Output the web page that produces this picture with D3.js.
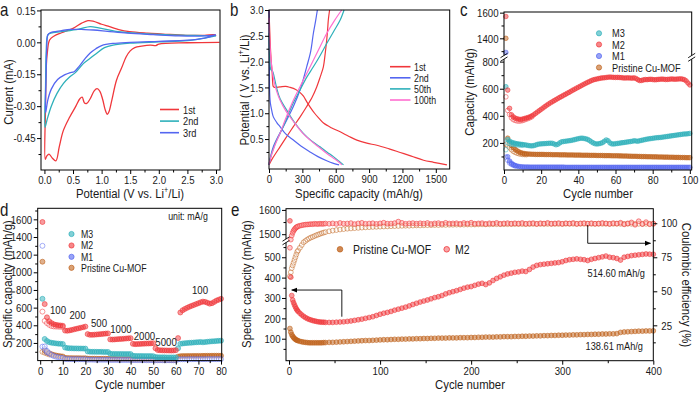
<!DOCTYPE html>
<html>
<head>
<meta charset="utf-8">
<script src="https://cdn.jsdelivr.net/npm/d3@7"></script>
<style>
body { margin: 0; background: #fff; }
svg text { font-family: "Liberation Sans", Arial, sans-serif; fill: #1a1a1a; }
</style>
</head>
<body>
<svg id="fig" width="700" height="393"></svg>
<script>
// ---------------- panel a : CV curves, [potential (V), current (mA)]
var cvFirst = [[3.06,0.0],[2.5,-0.002],[2.0,-0.008],[1.95,-0.015],[1.85,-0.013],[1.7,-0.018],[1.58,-0.025],[1.5,-0.04],
  [1.43,-0.068],[1.35,-0.12],[1.26,-0.178],[1.18,-0.27],[1.13,-0.325],[1.1,-0.338],[1.06,-0.315],[1.02,-0.27],[0.97,-0.23],
  [0.92,-0.218],[0.87,-0.228],[0.8,-0.265],[0.74,-0.287],[0.7,-0.285],[0.66,-0.258],[0.62,-0.265],[0.55,-0.3],[0.44,-0.352],
  [0.33,-0.415],[0.26,-0.49],[0.2,-0.557],[0.14,-0.545],[0.08,-0.525],[0.04,-0.535],[0.015,-0.55],[0.02,-0.3],[0.035,-0.1],
  [0.05,-0.05],[0.09,0.011],[0.17,0.03],[0.3,0.045],[0.5,0.066],[0.65,0.09],[0.76,0.102],[0.85,0.1],[1.0,0.085],[1.14,0.074],
  [1.3,0.06],[1.49,0.05],[1.8,0.043],[2.07,0.039],[2.47,0.033],[2.8,0.033],[2.97,0.036],[3.0,0.03]];
var cvSecond = [[3.0,0.03],[2.8,0.02],[2.5,0.008],[2.0,0.002],[1.5,-0.004],[1.2,-0.013],[1.05,-0.025],[0.91,-0.052],
  [0.8,-0.075],[0.68,-0.1],[0.55,-0.14],[0.44,-0.163],[0.33,-0.194],[0.22,-0.24],[0.12,-0.3],[0.05,-0.36],[0.01,-0.4],
  [0.02,-0.2],[0.03,-0.05],[0.06,0.035],[0.11,0.043],[0.3,0.05],[0.6,0.062],[0.8,0.074],[0.95,0.068],[1.25,0.052],
  [1.8,0.04],[2.4,0.034],[2.8,0.032],[3.0,0.03]];
var cvThird = [[3.0,0.035],[2.8,0.02],[2.5,0.01],[2.0,0.005],[1.5,0.0],[1.2,-0.005],[1.0,-0.015],[0.9,-0.03],[0.8,-0.05],
  [0.7,-0.08],[0.6,-0.115],[0.52,-0.138],[0.44,-0.143],[0.36,-0.152],[0.23,-0.175],[0.12,-0.22],[0.06,-0.27],[0.02,-0.33],
  [0.03,-0.15],[0.04,-0.03],[0.06,0.035],[0.1,0.045],[0.3,0.055],[0.45,0.061],[0.7,0.06],[0.86,0.058],[1.1,0.052],
  [1.45,0.043],[1.9,0.036],[2.35,0.03],[2.8,0.03],[3.0,0.035]];
var cvNames = ["1st", "2nd", "3rd"];
var aTicksX = [0, 0.5, 1, 1.5, 2, 2.5, 3], aMinorX = [0.25, 0.75, 1.25, 1.75, 2.25, 2.75];
var aTicksY = [-0.45, -0.3, -0.15, 0, 0.15], aMinorY = [-0.525, -0.375, -0.225, -0.075, 0.075];

// ---------------- panel b : charge/discharge, [capacity (mAh/g), potential (V)]
var dis1st = [[0,3.0],[5,2.7],[12,2.3],[20,2.0],[28,1.8],[33,1.6],[38,1.52],[50,1.5],[100,1.51],[150,1.52],[190,1.5],[240,1.46],
  [280,1.4],[310,1.33],[340,1.22],[370,1.12],[410,1.0],[450,0.9],[490,0.81],[560,0.72],[640,0.64],[720,0.55],[790,0.48],
  [880,0.42],[970,0.38],[1080,0.31],[1180,0.24],[1280,0.17],[1390,0.09],[1480,0.05],[1600,0.0]];
var chg1st = [[0,0.0],[30,0.12],[99,0.35],[160,0.55],[219,0.74],[280,0.93],[339,1.13],[390,1.32],[429,1.51],[460,1.7],
  [489,1.9],[505,2.15],[519,2.42],[528,2.65],[534,2.82],[545,3.0]];
var dis2nd = [[0,3.0],[2,2.3],[4,1.7],[6,1.4],[12,1.2],[25,1.05],[39,0.93],[70,0.82],[99,0.74],[150,0.6],[219,0.48],
  [290,0.36],[369,0.25],[440,0.16],[519,0.08],[580,0.03],[630,0.0]];
var chg2nd = [[0,0.0],[39,0.35],[129,0.74],[219,1.13],[279,1.45],[339,1.9],[375,2.2],[399,2.55],[420,2.8],[435,3.0]];
var dis50th = [[0,2.55],[4,2.2],[8,2.0],[15,1.85],[25,1.83],[35,1.8],[45,1.72],[70,1.48],[100,1.28],[159,1.06],[230,0.82],
  [309,0.61],[380,0.47],[459,0.35],[520,0.25],[579,0.16],[630,0.07],[670,0.0]];
var chg50th = [[0,0.0],[9,0.1],[50,0.38],[99,0.61],[150,0.85],[189,1.06],[230,1.25],[279,1.45],[340,1.7],[399,1.9],
  [460,2.12],[519,2.35],[580,2.58],[639,2.8],[675,3.0]];
var dis100th = [[0,2.85],[5,2.5],[12,2.2],[25,1.9],[45,1.62],[70,1.42],[100,1.25],[150,1.05],[220,0.84],[300,0.62],
  [370,0.48],[450,0.34],[520,0.22],[580,0.13],[630,0.05],[655,0.0]];
var chg100th = [[0,0.0],[10,0.1],[50,0.36],[99,0.61],[160,0.95],[219,1.25],[280,1.52],[339,1.77],[400,2.03],[459,2.29],
  [520,2.55],[590,2.8],[654,3.0]];
var gcdNames = ["1st", "2nd", "50th", "100th"];
var bTicksX = [0, 300, 600, 900, 1200, 1500], bMinorX = [150, 450, 750, 1050, 1350];
var bTicksY = [0.5, 1, 1.5, 2, 2.5, 3], bMinorY = [0.25, 0.75, 1.25, 1.75, 2.25, 2.75];

// ---------------- panel c : cycling at 100 mA/g, capacity per cycle (cycle = index + 1)
var cM2 = [1570,590,455,408,392,383,378,375,373,376,
  380,384,388,393,400,408,418,428,438,448,
  458,468,478,487,496,504,512,520,528,536,
  543,551,558,566,573,581,589,596,604,611,
  618,626,633,640,647,653,660,665,669,672,
  675,678,680,681,683,685,686,685,684,683,
  684,683,682,680,679,680,680,679,678,680,
  676,667,660,661,665,668,667,669,670,668,
  666,667,669,670,671,670,668,669,670,672,
  671,670,671,672,673,671,667,658,642,628];
var cM3 = [615,225,212,205,200,197,194,192,190,188,
  186,184,181,179,178,180,184,189,192,193,
  194,195,196,197,198,197,192,186,190,200,
  208,210,212,214,216,218,221,224,228,231,
  234,235,233,230,226,218,208,200,194,192,
  194,197,202,212,222,216,200,193,192,194,
  196,198,200,202,204,206,208,210,212,216,
  214,212,216,219,222,225,228,230,232,234,
  236,238,239,240,242,244,246,248,250,252,
  254,256,258,260,262,264,266,266,268,270];
var cM1 = [1290,98,66,50,40,33,29,26,24,23,
  22,22,22,21,21,21,21,21,21,21,
  21,21,21,21,21,21,21,21,21,21,
  21,21,20,20,20,20,20,20,20,20,
  20,20,20,20,20,20,20,20,20,20,
  20,20,20,20,20,20,20,20,20,20,
  20,20,20,20,20,20,20,20,20,20,
  20,20,20,20,20,20,20,20,20,20,
  20,20,20,20,20,20,20,20,20,20,
  20,20,20,20,20,20,20,20,20,20];
var cPristine = [1400,235,200,180,165,152,142,134,128,124,
  121,119,118,117,116,116,115,115,115,115,
  115,114,114,114,114,113,113,113,113,112,
  112,112,112,111,111,111,111,110,110,110,
  110,109,109,109,109,108,108,108,108,107,
  107,107,107,106,106,106,106,105,105,105,
  105,104,104,103,103,103,102,102,101,101,
  101,100,100,99,99,99,98,98,98,97,
  97,97,96,96,96,95,95,95,94,94,
  94,93,93,93,92,92,92,91,91,91];
// charge capacities, only the first cycles where they separate from discharge
var cM2Chg = [540,440,410,385,372,366,362,361,362,365,370,375,380,386,393];
var cM3Chg = [150,200,195,192,190,188,186,185,184,183];
var cM1Chg = [95,72,52,42,35,30];
var cPristineChg = [190,178,165,150,138,130,124,120,117,115,114,113];
var cTicksX = [0, 20, 40, 60, 80, 100], cMinorX = [10, 30, 50, 70, 90];
var cTicksLow = [200, 400, 600, 800], cMinorLow = [100, 300, 500, 700];
var cTicksHigh = [1400, 1600], cMinorHigh = [1300, 1500];

// ---------------- panel d : rate test, capacity per cycle (cycle = index + 1)
var dM2 = [1570,640,490,445,425,412,405,400,398,395,
  340,338,342,348,354,360,366,372,378,385,
  300,292,292,294,296,298,300,303,306,308,
  240,238,240,242,244,246,248,250,252,254,
  190,186,188,189,190,192,193,194,195,197,
  140,120,117,116,115,115,114,114,115,118,
  255,545,570,585,598,610,620,630,640,650,
  660,668,665,655,645,650,665,680,690,700];
var dM3 = [700,245,222,208,202,198,195,192,190,188,
  148,142,140,139,138,138,137,137,136,136,
  104,101,100,100,99,99,99,98,98,98,
  78,76,76,75,75,75,74,74,74,74,
  55,53,52,52,52,51,51,51,51,50,
  40,38,37,37,37,36,36,36,36,36,
  140,190,194,197,199,201,203,205,207,209,
  211,207,210,213,216,218,220,222,224,226];
var dM1 = [1300,160,110,82,64,52,44,38,34,31,
  18,17,17,16,16,16,15,15,15,15,
  11,11,11,10,10,10,10,10,10,10,
  8,8,8,8,7,7,7,7,7,7,
  6,6,6,6,6,6,5,5,5,5,
  4,4,4,4,4,4,4,4,4,4,
  14,15,15,15,15,16,16,16,16,16,
  16,16,16,17,17,17,17,17,17,17];
var dPristine = [1120,115,95,82,72,64,58,53,49,46,
  30,29,28,28,27,27,27,26,26,26,
  22,21,21,21,20,20,20,20,20,20,
  17,17,17,16,16,16,16,16,16,16,
  13,13,13,13,12,12,12,12,12,12,
  9,9,9,9,9,9,8,8,8,8,
  45,50,51,51,52,52,52,53,53,53,
  53,54,54,54,54,55,55,55,55,55];
var dM2Chg = [555,450,425,405,392,387,385,384,383,382];
var dM1Chg = [158,130,95];
var dPristineChg = [100,90,80,70];
// current-density labels and the [cycle, capacity] point where each one's baseline sits
var rateLabels = ["100", "200", "500", "1000", "2000", "5000", "100"];
var rateAt = [[7.9, 528], [16.5, 471], [26, 381], [35.7, 313], [46.1, 233], [55.7, 171], [70.7, 749]];
var dTicksX = [0, 10, 20, 30, 40, 50, 60, 70, 80], dMinorX = [5, 15, 25, 35, 45, 55, 65, 75];
var dTicksY = [200, 400, 600, 800, 1000, 1200, 1400, 1600], dMinorY = [100, 300, 500, 700, 900, 1100, 1300, 1500, 1700];

// ---------------- panel e : long cycling, sampled cycles
var eCycles = [1,2,3,4,5,6,7,8,9,10,12,14,16,18,20,22,24,26,28,30,32,34,36,38,40,
  44,48,52,56,60,64,68,72,76,80,84,88,92,96,100,104,108,112,116,120,124,128,132,136,140,
  144,148,152,156,160,164,168,172,176,180,184,188,192,196,200,204,208,212,216,220,
  224,228,232,236,240,244,248,252,256,260,264,268,272,276,280,284,288,292,296,300,
  304,308,312,316,320,324,328,332,336,340,344,348,352,356,360,364,368,372,376,380,
  384,388,392,396,400];
var eM2Cap = [1555,402,312,290,277,266,256,247,240,234,225,217,210,204,199,195,192,189,187,185,183,182,181,181,180,
  180,180,181,182,183,185,187,190,193,196,
  200,204,208,214,220,225,229,234,240,245,
  250,255,261,268,274,280,285,290,296,302,
  306,312,320,326,331,336,342,348,353,356,
  362,368,372,366,374,386,396,404,412,418,
  422,426,428,432,430,440,452,460,464,466,
  468,470,472,474,478,484,488,490,492,490,
  488,484,490,494,498,502,506,500,498,494,
  486,500,504,508,510,512,514,516,515,514.6];
var ePristineCap = [150,132,120,112,106,101,97,94,92,90,87,85,83,82,81,80,80,80,80,80,80,80,80,81,81,
  82,82,83,84,85,86,87,88,89,90,
  91,91,92,93,94,95,95,96,97,97,
  98,98,99,99,100,100,101,101,102,102,
  103,103,103,104,104,104,105,105,105,106,
  106,107,107,108,108,108,109,109,110,110,
  110,111,111,112,112,113,113,114,114,115,
  115,116,116,117,117,118,118,119,119,120,
  120,121,121,122,122,123,123,124,124,125,
  131,133,134,135,136,137,137,138,138,138.6];
var eM2CE = [82,88,91,93,94.5,95.5,96.3,97,97.4,97.8,98.2,98.5,98.8,99,99.1,99.2,99.4,99.3,99.6,99.5,99.4,99.7,99.5,99.6,99.8,
  99.6,99.9,99.5,100.2,99.7,99.8,100.1,99.4,99.9,100.3,
  99.6,99.8,100,99.5,99.9,100.4,99.7,99.8,100.1,101.2,
  100.3,99.6,99.9,100.1,99.7,100,99.8,100.2,99.5,99.9,
  100.1,99.6,100.3,99.8,99.9,100,99.6,100.2,99.8,100.4,
  99.7,99.9,100.1,99.5,100,99.8,100.3,99.6,99.9,100.1,
  99.7,100,99.8,100.2,99.6,99.9,100.1,99.5,100,99.8,
  100.3,99.7,99.9,100.1,99.6,100,99.8,100.2,99.5,99.9,
  100.1,99.7,100,99.6,99.8,100.2,99.9,99.5,100.1,99.8,
  100.4,99.2,99.9,100.6,98.9,101.5,99.4,100.8,99.3,99.7];
var ePristineCE = [61,64,67,69,71,73,75,77,79,80,82,84,86,87,88,88.8,89.5,90,90.6,91.2,91.7,92.2,92.7,93.1,93.5,
  94.1,94.6,95,95.4,95.7,96,96.2,96.4,96.6,96.8,
  97,97.1,97.3,97.4,97.5,97.6,97.7,97.8,97.9,98,
  98.1,98.2,98.2,98.3,98.4,98.4,98.5,98.6,98.6,98.7,
  98.7,98.8,98.8,98.9,98.9,99,99,99,99.1,99.1,
  99.1,99.2,99.2,99.2,99.2,99.3,99.3,99.3,99.3,99.3,
  99.4,99.4,99.4,99.4,99.4,99.4,99.5,99.5,99.5,99.5,
  99.5,99.5,99.5,99.5,99.5,99.6,99.6,99.6,99.6,99.6,
  99.6,99.6,99.6,99.6,99.6,99.6,99.6,99.6,99.6,99.6,
  99.6,99.6,99.6,99.6,99.6,99.6,99.6,99.6,99.6,99.6];
var eTicksX = [0, 100, 200, 300, 400], eMinorX = [50, 150, 250, 350];
var eTicksLow = [100, 200, 300, 400, 500], eMinorLow = [50, 150, 250, 350, 450, 550];
var eTicksHigh = [1500, 1600], eMinorHigh = [1550];
var eTicksCE = [25, 50, 75, 100], eMinorCE = [12.5, 37.5, 62.5, 87.5];

[cM2, cM3, cM1, cPristine].forEach(function (a) { if (a.length !== 100) throw new Error("panel c length " + a.length); });
[dM2, dM3, dM1, dPristine].forEach(function (a) { if (a.length !== 80) throw new Error("panel d length " + a.length); });
[eM2Cap, ePristineCap, eM2CE, ePristineCE].forEach(function (a) { if (a.length !== eCycles.length) throw new Error("panel e length " + a.length + " vs " + eCycles.length); });

// ---------------- colours and helpers
var RED = "#f0373b", TEAL = "#2eb0ba", BLUE = "#5466f0", BROWN = "#bf621b", PINK = "#ff6fd0";
var TICK_FS = 11.5, TITLE_FS = 13.5, LEG_FS = 10.5, SX = 0.84;   // the figure's lettering is narrow: squeeze Arial-like text
var svg = d3.select("#fig");

function frame(x0, y0, x1, y1) {
  svg.append("rect").attr("x", x0).attr("y", y0).attr("width", x1 - x0).attr("height", y1 - y0)
    .attr("fill", "none").attr("stroke", "#000").attr("stroke-width", 1);
}

function axisAt(gen, scale, tx, ty, majors, minors, fmt, pad) {
  var g = svg.append("g").attr("transform", "translate(" + tx + "," + ty + ")");
  g.call(gen(scale).tickValues(majors).tickSize(4).tickPadding(pad).tickFormat(fmt));
  if (minors) g.append("g").call(gen(scale).tickValues(minors).tickSize(2.5).tickFormat(""));
  g.selectAll(".domain").remove();
  g.selectAll("line").attr("stroke", "#000");
  g.selectAll("text").style("font-size", TICK_FS + "px").each(function () {
    var t = d3.select(this), x = +t.attr("x") || 0;
    t.attr("x", x / SX).attr("transform", "scale(" + SX + ",1)");
  });
  return g;
}

// title text with optional superscript parts: parts = [[text, isSup], ...]
function title(x, y, rot, parts, size) {
  var t = svg.append("text").attr("transform", "translate(" + x + "," + y + ") rotate(" + rot + ") scale(" + SX + ",1)")
    .attr("text-anchor", "middle").style("font-size", (size || TITLE_FS) + "px");
  var up = false;
  parts.forEach(function (p) {
    var s = t.append("tspan").text(p[0]);
    if (p[1]) { s.attr("dy", -5).style("font-size", "8.5px"); up = true; }
    else if (up) { s.attr("dy", 5); up = false; }
  });
  return t;
}

function label(x, y, txt, size, anchor) {
  return svg.append("text").attr("transform", "translate(" + x + "," + y + ") scale(" + SX + ",1)")
    .attr("text-anchor", anchor || "start").style("font-size", size + "px").text(txt);
}

function breakMark(x, y) {
  var g = svg.append("g");
  g.append("rect").attr("x", x - 1.5).attr("y", y - 1.8).attr("width", 3).attr("height", 3.6).attr("fill", "#fff");
  [-1.8, 1.8].forEach(function (o) {
    g.append("line").attr("x1", x - 3.5).attr("y1", y + o + 2.2).attr("x2", x + 3.5).attr("y2", y + o - 2.2)
      .attr("stroke", "#000").attr("stroke-width", 0.9);
  });
}

function dots(vals, xf, yf, color, open, r) {
  svg.append("g").selectAll("circle").data(vals).join("circle")
    .attr("cx", function (d, i) { return xf(d, i); })
    .attr("cy", function (d, i) { return yf(d, i); })
    .attr("r", r)
    .attr("fill", open ? "#fff" : color).attr("fill-opacity", open ? 0.3 : 0.5)
    .attr("stroke", color).attr("stroke-width", 0.7).attr("stroke-opacity", open ? 0.75 : 0.85);
}

// ================= panel a
var ax = d3.scaleLinear().domain([-0.06, 3.07]).range([41, 220]);
var ay = d3.scaleLinear().domain([-0.6, 0.152]).range([170, 10]);
var cvLine = d3.line().x(function (d) { return ax(d[0]); }).y(function (d) { return ay(d[1]); })
  .curve(d3.curveCatmullRom.alpha(0.5));
var cvColors = [RED, TEAL, BLUE];
[cvFirst, cvSecond, cvThird].forEach(function (s, i) {
  svg.append("path").attr("d", cvLine(s)).attr("fill", "none").attr("stroke", cvColors[i]).attr("stroke-width", 1.3);
});
frame(41, 10, 220, 170);
axisAt(d3.axisBottom, ax, 0, 170, aTicksX, aMinorX, function (d) { return d.toFixed(1); }, 2);
axisAt(d3.axisLeft, ay, 41, 0, aTicksY, aMinorY, function (d) { return d.toFixed(2); }, 1.5);
cvNames.forEach(function (n, i) {
  var y = 109.5 + i * 11.6;
  svg.append("line").attr("x1", 160).attr("x2", 179).attr("y1", y).attr("y2", y).attr("stroke", cvColors[i]).attr("stroke-width", 1.6);
  label(183, y + 4, n, LEG_FS + 0.5);
});
title(130, 198, 0, [["Potential (V vs. Li"], ["+", true], ["/Li)"]]);
title(13, 92, -90, [["Current (mA)"]]);
label(0, 16, "a", 18);

// ================= panel b
var bx = d3.scaleLinear().domain([0, 1625]).range([269, 449.7]);
var by = d3.scaleLinear().domain([-0.08, 3.0]).range([169, 10]);
var gcdLine = d3.line().x(function (d) { return bx(d[0]); }).y(function (d) { return by(d[1]); })
  .curve(d3.curveCatmullRom.alpha(0.5));
var gcdColors = [RED, BLUE, TEAL, PINK];
[[dis1st, chg1st], [dis2nd, chg2nd], [dis50th, chg50th], [dis100th, chg100th]].forEach(function (pair, i) {
  pair.forEach(function (s) {
    svg.append("path").attr("d", gcdLine(s)).attr("fill", "none").attr("stroke", gcdColors[i]).attr("stroke-width", 1.2);
  });
});
frame(269, 10, 449.7, 169);
axisAt(d3.axisBottom, bx, 0, 169, bTicksX, bMinorX, d3.format("d"), 2);
axisAt(d3.axisLeft, by, 269, 0, bTicksY, bMinorY, function (d) { return d.toFixed(1); }, 1.5);
gcdNames.forEach(function (n, i) {
  var y = 66.7 + i * 11.1;
  svg.append("line").attr("x1", 390).attr("x2", 410.5).attr("y1", y).attr("y2", y).attr("stroke", gcdColors[i]).attr("stroke-width", 1.6);
  label(414, y + 3.8, n, LEG_FS);
});
title(359, 198, 0, [["Specific capacity (mAh/g)"]]);
title(249, 90, -90, [["Potential ( V vs. Li"], ["+", true], ["/Li)"]]);
label(230, 16, "b", 18);

// ================= panel c
var cx = d3.scaleLinear().domain([0, 101]).range([504, 691.7]);
var cLo = d3.scaleLinear().domain([0, 815]).range([170, 59.6]);
var cUp = d3.scaleLinear().domain([1270, 1605]).range([55, 12]);
function cy(v) { return v >= 1000 ? cUp(v) : cLo(v); }
function cX(d, i) { return cx(i + 1); }
function cY(d) { return cy(d); }
var cSeries = [[cPristine, cPristineChg, BROWN], [cM1, cM1Chg, BLUE], [cM3, cM3Chg, TEAL], [cM2, cM2Chg, RED]];
cSeries.forEach(function (s) {
  dots(s[1], cX, cY, s[2], true, 2.3);
  dots(s[0], cX, cY, s[2], false, 2.3);
});
frame(504, 12, 691.7, 170);
axisAt(d3.axisBottom, cx, 0, 170, cTicksX, cMinorX, d3.format("d"), 2);
axisAt(d3.axisLeft, cLo, 504, 0, cTicksLow, cMinorLow, d3.format("d"), 1.5);
axisAt(d3.axisLeft, cUp, 504, 0, cTicksHigh, cMinorHigh.filter(function (v) { return v > 1280; }), d3.format("d"), 1.5);
breakMark(504, 57.3);
breakMark(691.7, 57.3);
[["M3", TEAL], ["M2", RED], ["M1", BLUE], ["Pristine Cu-MOF", BROWN]].forEach(function (e, i) {
  var y = [33.3, 44.5, 56, 67.5][i];
  svg.append("circle").attr("cx", 599).attr("cy", y).attr("r", 2.6).attr("fill", e[1]).attr("fill-opacity", 0.6)
    .attr("stroke", e[1]).attr("stroke-width", 0.7);
  label(612, y + 4, e[0], LEG_FS + 0.5);
});
title(598, 198, 0, [["Cycle number"]]);
title(474, 92, -90, [["Capacity (mAh/g)"]]);
label(460, 16, "c", 18);

// ================= panel d
var dx = d3.scaleLinear().domain([-1.1, 80.3]).range([37.7, 221.7]);
var dy = d3.scaleLinear().domain([0, 1725]).range([360.6, 208.3]);
function dX(d, i) { return dx(i + 1); }
function dY(d) { return dy(d); }
dots(dPristineChg, dX, dY, BROWN, true, 2.5);
dots(dPristine, dX, dY, BROWN, false, 2.5);
dots(dM1Chg, dX, dY, BLUE, true, 2.5);
dots(dM1, dX, dY, BLUE, true, 2.5);
dots(dM3, dX, dY, TEAL, false, 2.5);
dots(dM2Chg, dX, dY, RED, true, 2.5);
dots(dM2, dX, dY, RED, false, 2.5);
frame(37.7, 208.3, 221.7, 360.6);
axisAt(d3.axisBottom, dx, 0, 360.6, dTicksX, dMinorX, d3.format("d"), 2);
axisAt(d3.axisLeft, dy, 37.7, 0, dTicksY, dMinorY, d3.format("d"), 1.5);
label(188, 219.5, "unit: mA/g", 10.5, "middle");
rateLabels.forEach(function (t, i) {
  label(dx(rateAt[i][0]), dy(rateAt[i][1]), t, 11.5, "middle");
});
[["M3", TEAL], ["M2", RED], ["M1", BLUE], ["Pristine Cu-MOF", BROWN]].forEach(function (e, i) {
  var y = [234, 245.5, 256.8, 267.8][i];
  svg.append("circle").attr("cx", 71.5).attr("cy", y).attr("r", 2.6).attr("fill", e[1]).attr("fill-opacity", 0.6)
    .attr("stroke", e[1]).attr("stroke-width", 0.7);
  label(81, y + 3.8, e[0], LEG_FS);
});
title(130, 389, 0, [["Cycle number"]]);
title(12, 284, -90, [["Specific capacity (mAh/g)"]]);
label(0, 216, "d", 18);

// ================= panel e
var ex = d3.scaleLinear().domain([-3.3, 400]).range([286, 653.3]);
var eLo = d3.scaleLinear().domain([-8, 570]).range([360.7, 243]);
var eUp = d3.scaleLinear().domain([1481, 1605]).range([238.8, 208.7]);
var eR = d3.scaleLinear().domain([-1, 110.7]).range([360.7, 208.7]);
function ey(v) { return v >= 1000 ? eUp(v) : eLo(v); }
function eX(d, i) { return ex(eCycles[i]); }
dots(ePristineCE, eX, function (d) { return eR(d); }, BROWN, true, 2.4);
svg.append("g").selectAll("circle").data(eM2CE).join("circle")
  .attr("cx", eX).attr("cy", function (d) { return eR(d); }).attr("r", 2.4)
  .attr("fill", "#ff9a9a").attr("fill-opacity", 0.5).attr("stroke", RED).attr("stroke-width", 0.7).attr("stroke-opacity", 0.85);
dots(ePristineCap, eX, function (d) { return ey(d); }, BROWN, false, 2.4);
dots(eM2Cap, eX, function (d) { return ey(d); }, RED, false, 2.4);
frame(286, 208.7, 653.3, 360.7);
axisAt(d3.axisBottom, ex, 0, 360.7, eTicksX, eMinorX, d3.format("d"), 2);
axisAt(d3.axisLeft, eLo, 286, 0, eTicksLow, eMinorLow, d3.format("d"), 1.5);
axisAt(d3.axisLeft, eUp, 286, 0, eTicksHigh, eMinorHigh, d3.format("d"), 1.5);
axisAt(d3.axisRight, eR, 653.3, 0, eTicksCE, eMinorCE, d3.format("d"), 4);
breakMark(286, 240.8);

// arrows pointing to the axis each series belongs to
var defs = svg.append("defs");
defs.append("marker").attr("id", "ah").attr("viewBox", "0 0 10 10").attr("refX", 9).attr("refY", 5)
  .attr("markerWidth", 7).attr("markerHeight", 7).attr("orient", "auto-start-reverse")
  .append("path").attr("d", "M0,1 L10,5 L0,9 Z").attr("fill", "#000");
svg.append("path").attr("d", "M" + ex(328) + "," + eR(98.8) + " V" + eR(85.3) + " H" + ex(397))
  .attr("fill", "none").attr("stroke", "#000").attr("stroke-width", 0.9).attr("marker-end", "url(#ah)");
svg.append("path").attr("d", "M" + ex(58) + "," + eLo(208) + " V" + eLo(339) + " H" + ex(3))
  .attr("fill", "none").attr("stroke", "#000").attr("stroke-width", 0.9).attr("marker-end", "url(#ah)");

label(645, 277, "514.60 mAh/g", 11, "end");
label(643, 350, "138.61 mAh/g", 11, "end");
svg.append("circle").attr("cx", 340).attr("cy", 249.3).attr("r", 2.8).attr("fill", BROWN).attr("fill-opacity", 0.75)
  .attr("stroke", BROWN).attr("stroke-width", 0.7);
label(353, 253.5, "Pristine Cu-MOF", 12.5);
svg.append("circle").attr("cx", 446.7).attr("cy", 249.3).attr("r", 2.8).attr("fill", RED).attr("fill-opacity", 0.45)
  .attr("stroke", RED).attr("stroke-width", 0.8);
label(455, 253.5, "M2", 12.5);
title(470, 389, 0, [["Cycle number"]]);
title(251, 284, -90, [["Specific capacity (mAh/g)"]]);
title(682, 285, 90, [["Coulombic efficiency (%)"]]);
label(231, 216, "e", 18);
</script>
</body>
</html>
